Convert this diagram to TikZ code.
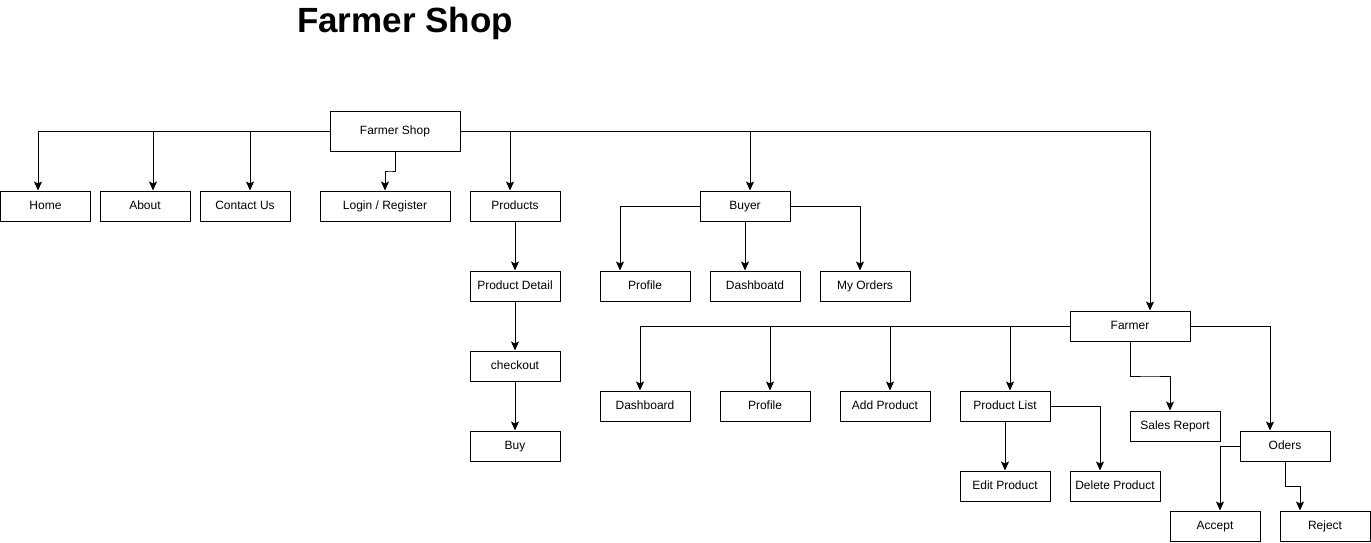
\documentclass[tikz,border=0pt]{standalone}
\usepackage{fontspec}
\setmainfont{Liberation Sans}
\usetikzlibrary{arrows.meta,calc}
\begin{document}
\begin{tikzpicture}[x=1pt,y=-1pt,
  box/.style={draw,line width=1pt,minimum width=90pt,minimum height=30pt,inner sep=0pt,text height=8.6pt,text depth=2.4pt,font=\fontsize{12}{14}\selectfont},
  arr/.style={line width=1pt,-{Stealth[length=9pt,width=8pt,inset=2pt]}},
  ln/.style={line width=1pt}]
\useasboundingbox (0,0) rectangle (1371,542);
\node[font=\bfseries\fontsize{35}{40}\selectfont] (title) at (405,23.5) {Farmer Shop};
% nodes
\node[box,minimum width=130pt,minimum height=40pt] (fs) at (395,131) {Farmer Shop};
\node[box] (home) at (45.5,206) {Home};
\node[box] (about) at (145,206) {About};
\node[box] (contact) at (245,206) {Contact Us};
\node[box,minimum width=130pt] (login) at (385,206) {Login / Register};
\node[box] (products) at (515,206) {Products};
\node[box] (pd) at (515,286) {Product Detail};
\node[box] (co) at (515,366) {checkout};
\node[box] (buy) at (515,446) {Buy};
\node[box] (buyer) at (745,206) {Buyer};
\node[box] (pf1) at (645,286) {Profile};
\node[box] (db1) at (755,286) {Dashboatd};
\node[box] (mo) at (865,286) {My Orders};
\node[box,minimum width=120pt] (farmer) at (1130,326) {Farmer};
\node[box] (db2) at (645,406) {Dashboard};
\node[box] (pf2) at (765,406) {Profile};
\node[box] (ap) at (885,406) {Add Product};
\node[box] (pl) at (1005,406) {Product List};
\node[box] (sr) at (1175,426) {Sales Report};
\node[box] (od) at (1285,446) {Oders};
\node[box] (ep) at (1005,486) {Edit Product};
\node[box] (dp) at (1115,486) {Delete Product};
\node[box] (acc) at (1215,526) {Accept};
\node[box] (rej) at (1325,526) {Reject};
% arrival points
\coordinate (hmin) at ([xshift=-7.5pt]home.north);
\coordinate (abin) at ([xshift=8pt]about.north);
\coordinate (ctin) at ([xshift=5pt]contact.north);
\coordinate (prin) at ([xshift=-5pt]products.north);
\coordinate (buin) at ([xshift=5pt]buyer.north);
\coordinate (fain) at ([xshift=20pt]farmer.north);
\coordinate (pf1in) at ([xshift=-25pt]pf1.north);
\coordinate (db1in) at ([xshift=-10pt]db1.north);
\coordinate (moin) at ([xshift=-5pt]mo.north);
\coordinate (db2in) at ([xshift=-5pt]db2.north);
\coordinate (pf2in) at ([xshift=5pt]pf2.north);
\coordinate (apin) at ([xshift=5pt]ap.north);
\coordinate (plin) at ([xshift=5pt]pl.north);
\coordinate (srin) at ([xshift=-5pt]sr.north);
\coordinate (odin) at ([xshift=-15pt]od.north);
\coordinate (dpin) at ([xshift=-15pt]dp.north);
\coordinate (accin) at ([xshift=5pt]acc.north);
\coordinate (rejin) at ([xshift=-25pt]rej.north);
% connectors from Farmer Shop
\draw[arr] (fs.west) -| (hmin);
\draw[arr] (abin |- fs.west) -- (abin);
\draw[arr] (ctin |- fs.west) -- (ctin);
\draw[arr] (fs.south) |- ($(fs.south)!0.5!(login.north)$) -| (login.north);
\draw[arr] (fs.east) -| (fain);
\draw[arr] (prin |- fs.east) -- (prin);
\draw[arr] (buin |- fs.east) -- (buin);
% products chain
\draw[arr] (products.south) -- (pd.north);
\draw[arr] (pd.south) -- (co.north);
\draw[arr] (co.south) -- (buy.north);
% buyer
\draw[arr] (buyer.west) -| (pf1in);
\draw[arr] (buyer.south) -- (db1in);
\draw[arr] (buyer.east) -| (moin);
% farmer
\draw[arr] (farmer.west) -| (db2in);
\draw[arr] (pf2in |- farmer.west) -- (pf2in);
\draw[arr] (apin |- farmer.west) -- (apin);
\draw[arr] (plin |- farmer.west) -- (plin);
\draw[arr] (farmer.south) |- ($(farmer.south)!0.5!(srin)$) -| (srin);
\draw[arr] (farmer.east) -| (odin);
% product list
\draw[arr] (pl.south) -- (ep.north);
\draw[arr] (pl.east) -| (dpin);
% orders
\draw[arr] (od.west) -| (accin);
\draw[arr] (od.south) |- ($(od.south)!0.5!(rejin)$) -| (rejin);
\end{tikzpicture}
\end{document}
